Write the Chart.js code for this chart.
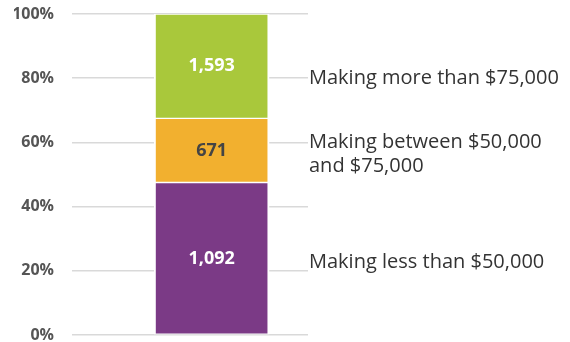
<!DOCTYPE html>
<html>
<head>
<meta charset="utf-8">
<script src="https://cdn.jsdelivr.net/npm/chart.js@4"></script>
<style>
  html, body { margin: 0; padding: 0; background: #fff; overflow: hidden; }
  canvas { display: block; }
</style>
</head>
<body>
<canvas id="chart" width="570" height="342"></canvas>
<script>
// bands, bottom to top
const groups = ['Making less than $50,000', 'Making between $50,000 and $75,000', 'Making more than $75,000'];
const groupLines = [['Making less than $50,000'], ['Making between $50,000', 'and $75,000'], ['Making more than $75,000']];
const shares = [47.5, 20.0, 32.5];          // height of each band, % (as drawn)
const counts = ['1,092', '671', '1,593'];   // number printed inside each band
const colors = ['#7b3a86', '#f2b02f', '#a9c83b'];
const countColors = ['#ffffff', '#444444', '#ffffff'];
const labelAt = [22.5, 60, 80];             // where the side labels sit on the y scale
const yTicks = [0, 20, 40, 60, 80, 100];
const barSlot = 6.1;                        // the bar sits here on a 0..10 horizontal track

const font = '"Open Sans", "DejaVu Sans", sans-serif';

// numbers inside the bars + labels on the right
const bandLabels = {
    id: 'bandLabels',
    afterDatasetsDraw(chart) {
        const ctx = chart.ctx;
        const y = chart.scales.y;
        ctx.save();
        ctx.textBaseline = 'middle';
        chart.data.datasets.forEach((ds, i) => {
            const bar = chart.getDatasetMeta(i).data[0];
            ctx.font = 'bold 18px ' + font;
            ctx.fillStyle = countColors[i];
            ctx.textAlign = 'center';
            ctx.fillText(counts[i], bar.x, (bar.y + bar.base) / 2);

            ctx.font = '20px ' + font;
            ctx.fillStyle = '#333333';
            ctx.textAlign = 'left';
            const top = y.getPixelForValue(labelAt[i]);
            groupLines[i].forEach((t, k) => ctx.fillText(t, chart.chartArea.right + 1, top + k * 24));
        });
        ctx.restore();
    }
};

new Chart(document.getElementById('chart'), {
    type: 'bar',
    data: {
        datasets: groups.map((g, i) => ({
            label: g,
            data: [{ x: barSlot, y: shares[i] }],
            backgroundColor: colors[i],
            borderColor: '#ffffff',
            borderWidth: { left: 2, right: 2, top: 1, bottom: 1 },
            borderSkipped: false,
            barThickness: 115
        }))
    },
    options: {
        responsive: false,
        animation: false,
        layout: { padding: { left: 14, right: 262, top: 0, bottom: 0 } },
        plugins: {
            legend: { display: false },
            tooltip: { enabled: false }
        },
        scales: {
            x: {
                type: 'linear',
                min: 0,
                max: 10,
                stacked: true,
                display: false
            },
            y: {
                stacked: true,
                min: 0,
                max: 100,
                afterBuildTicks(axis) {
                    axis.ticks = yTicks.map(v => ({ value: v }));
                },
                afterFit(axis) {
                    // tick padding is meant to be horizontal only
                    axis.paddingTop = 14;
                    axis.paddingBottom = 7;
                    axis.width = 58;
                },
                border: { display: false },
                grid: { color: '#d9d9d9', lineWidth: 1.5, drawTicks: false },
                ticks: {
                    padding: 18,
                    color: '#555555',
                    font: { family: font, size: 16, weight: 'bold', lineHeight: 1 },
                    callback: v => v + '%'
                }
            }
        }
    },
    plugins: [bandLabels]
});
</script>
</body>
</html>
